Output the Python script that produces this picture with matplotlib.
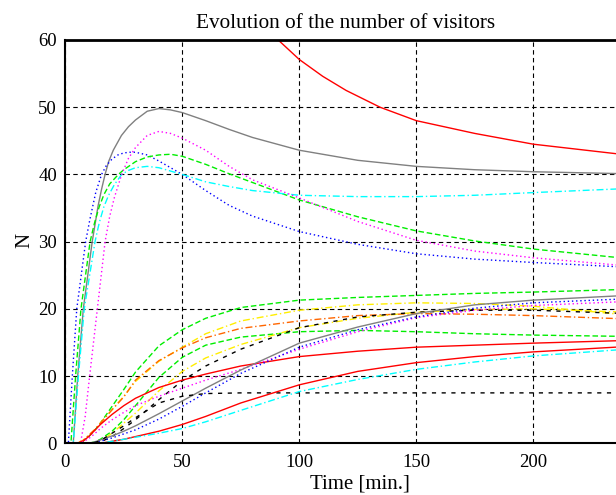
import matplotlib
matplotlib.use("Agg")
import matplotlib.pyplot as plt

# ---------------- data ----------------
# upper group (curves with a peak)
red_top_t = [85, 91, 100, 110, 120, 134.5, 150, 175, 200, 240]
red_top_n = [62.5, 60.0, 57.1, 54.6, 52.5, 50.0, 48.0, 46.1, 44.5, 42.9]

gray_up_t = [0, 3.4, 5.3, 7.7, 11.5, 14, 15.5, 17, 18.5, 20.5, 24, 27, 30, 35, 40, 45, 50, 60, 70, 80, 100, 125, 150, 175, 200, 240]
gray_up_n = [0, 0, 10, 20, 30, 35.3, 37.8, 40, 41.9, 43.6, 45.8, 47.1, 48.1, 49.4, 49.8, 49.6, 49.2, 48.0, 46.7, 45.5, 43.6, 42.1, 41.2, 40.7, 40.4, 40.1]

blue_up_t = [0, 1.3, 3.0, 4.9, 8.7, 10.5, 13, 15.5, 17.5, 20, 22.5, 25, 27.5, 30, 35, 40, 50, 60, 70, 80, 100, 125, 150, 175, 200, 240]
blue_up_n = [0, 0, 10, 20, 30, 33.3, 37.3, 40, 41.3, 42.3, 42.9, 43.2, 43.3, 43.3, 42.9, 42.0, 40.0, 37.6, 35.4, 33.8, 31.5, 29.6, 28.2, 27.4, 26.9, 26.2]

green_up_t = [0, 2.4, 4.4, 6.7, 10.6, 12.5, 14.5, 16.5, 19, 22.7, 25, 30, 35, 40, 45, 50, 60, 70, 80, 100, 125, 150, 175, 200, 240]
green_up_n = [0, 0, 10, 20, 30, 32.8, 35.2, 37.0, 38.6, 40, 40.7, 41.9, 42.6, 42.9, 43.0, 42.7, 41.5, 40.1, 38.8, 36.2, 33.7, 31.6, 30.1, 28.9, 27.5]

cyan_up_t = [0, 3.4, 5.6, 8.1, 12.7, 14.5, 16.5, 18.5, 21, 24.1, 27, 30, 35, 40, 50, 60, 70, 80, 100, 125, 150, 175, 200, 240]
cyan_up_n = [0, 0, 10, 20, 30, 32.8, 35.2, 36.9, 38.5, 40, 40.6, 41.0, 41.2, 41.0, 40.0, 38.9, 38.2, 37.6, 36.9, 36.7, 36.7, 36.9, 37.3, 37.9]

mag_up_t = [0, 6.5, 8.5, 10.4, 13.7, 17, 19, 21, 24.1, 27, 30, 35, 40, 45, 50, 60, 70, 80, 100, 125, 150, 175, 200, 240]
mag_up_n = [0, 0, 4, 10, 20, 30, 33.8, 36.6, 40, 42.4, 44.0, 45.8, 46.4, 46.1, 45.4, 43.6, 41.2, 39.2, 36.5, 33.0, 30.2, 28.6, 27.6, 26.4]

# lower group (saturating curves)
low_t = [0, 5, 7.5, 10, 12.5, 15, 20, 25, 30, 40, 50, 60, 75, 100, 125, 150, 175, 200, 240]
green1_n = [0, 0, 0.3, 1.0, 1.9, 3.0, 5.5, 8.0, 10.6, 14.5, 16.9, 18.6, 20.2, 21.3, 21.7, 22.0, 22.3, 22.5, 22.9]
yellow1_n = [0, 0, 0.4, 1.2, 2.0, 3.0, 5.0, 7.0, 9.2, 12.2, 14.3, 16.3, 18.2, 19.8, 20.6, 20.9, 20.8, 20.4, 19.1]
orange_n = [0, 0, 0.4, 1.2, 2.0, 3.0, 5.0, 6.9, 9.4, 12.3, 14.2, 15.7, 17.1, 18.2, 19.0, 19.3, 19.2, 19.0, 18.5]
green2_n = [0, 0, 0, 0, 0.2, 0.6, 1.8, 3.5, 5.6, 9.8, 12.8, 14.6, 15.8, 16.6, 16.8, 16.6, 16.3, 16.1, 15.9]
yellow2_n = [0, 0, 0, 0, 0.1, 0.3, 1.5, 3.0, 4.5, 7.8, 10.7, 12.7, 14.7, 17.2, 18.6, 19.5, 19.9, 20.0, 19.5]
black1_n = [0, 0, 0, 0, 0.1, 0.2, 1.0, 2.2, 3.5, 6.5, 9.3, 11.5, 14.0, 17.2, 18.8, 19.5, 19.8, 19.8, 19.3]
red1_n = [0, 0, 0.3, 1.0, 1.9, 2.8, 4.3, 5.6, 6.7, 8.3, 9.4, 10.3, 11.5, 12.9, 13.7, 14.3, 14.6, 14.9, 15.3]
mag_low_n = [0, 0, 0.2, 0.7, 1.4, 2.2, 3.5, 4.6, 5.6, 7.0, 8.2, 9.4, 11.0, 14.0, 16.6, 18.7, 19.8, 20.5, 21.1]
gray_low_n = [0, 0, 0, 0, 0.2, 0.5, 1.1, 1.8, 2.6, 4.4, 6.3, 8.2, 10.9, 14.9, 17.3, 19.3, 20.6, 21.3, 22.0]
blue_low_n = [0, 0, 0, 0, 0.1, 0.3, 0.8, 1.4, 2.0, 3.6, 5.5, 7.5, 10.4, 14.3, 16.9, 18.8, 20.1, 20.9, 21.5]
black2_n = [0, 0, 0, 0, 0.1, 0.4, 1.5, 2.6, 3.8, 6.0, 7.0, 7.4, 7.5, 7.5, 7.5, 7.5, 7.5, 7.5, 7.5]
red2_n = [0, 0, 0, 0, 0, 0, 0.3, 0.6, 1.0, 1.8, 2.8, 4.0, 6.0, 8.7, 10.7, 12.0, 12.9, 13.6, 14.4]
cyan_low_n = [0, 0, 0, 0, 0, 0, 0.3, 0.6, 0.9, 1.5, 2.2, 3.2, 4.9, 7.7, 9.5, 11.0, 12.1, 13.0, 14.0]

x_ticks = [0, 50, 100, 150, 200]
y_ticks = [0, 10, 20, 30, 40, 50, 60]

# ---------------- styling ----------------
plt.rcParams['font.family'] = ['Liberation Serif', 'DejaVu Serif']

W, H = 616, 495
fig = plt.figure(figsize=(W / 100, H / 100), dpi=100)
x0, y0, y1 = 65.3, 443.3, 40.0
xmax = 240
pxw = xmax * 2.34
ax = fig.add_axes([x0 / W, (H - y0) / H, pxw / W, (y0 - y1) / H])

RED = '#ff0000'
GRAY = '#808080'
BLUE = '#0000ff'
GREEN = '#00ee00'
CYAN = '#00ffff'
MAG = '#ff00ff'
YEL = '#ffee00'
ORG = '#ff6600'
BLK = '#000000'

lw = 1.0
dot = (0, (1, 2))
dash = (0, (4, 2))
bdash = (0, (3, 4))
dashdot = (0, (5, 2, 1, 2))

ax.plot(red_top_t, red_top_n, color=RED, lw=lw, ls='-')
ax.plot(gray_up_t, gray_up_n, color=GRAY, lw=lw, ls='-')
ax.plot(blue_up_t, blue_up_n, color=BLUE, lw=lw, ls=dot)
ax.plot(green_up_t, green_up_n, color=GREEN, lw=lw, ls=dash)
ax.plot(cyan_up_t, cyan_up_n, color=CYAN, lw=lw, ls=dashdot)
ax.plot(mag_up_t, mag_up_n, color=MAG, lw=lw, ls=dot)

ax.plot(low_t, green1_n, color=GREEN, lw=lw, ls=dash)
ax.plot(low_t, yellow1_n, color=YEL, lw=lw, ls=dashdot)
ax.plot(low_t, orange_n, color=ORG, lw=lw, ls=dashdot)
ax.plot(low_t, green2_n, color=GREEN, lw=lw, ls=dash)
ax.plot(low_t, yellow2_n, color=YEL, lw=lw, ls=dashdot)
ax.plot(low_t, black1_n, color=BLK, lw=lw, ls=bdash)
ax.plot(low_t, red1_n, color=RED, lw=lw, ls='-')
ax.plot(low_t, mag_low_n, color=MAG, lw=lw, ls=dot)
ax.plot(low_t, gray_low_n, color=GRAY, lw=lw, ls='-')
ax.plot(low_t, blue_low_n, color=BLUE, lw=lw, ls=dot)
ax.plot(low_t, black2_n, color=BLK, lw=lw, ls=bdash)
ax.plot(low_t, red2_n, color=RED, lw=lw, ls='-')
ax.plot(low_t, cyan_low_n, color=CYAN, lw=lw, ls=dashdot)

ax.set_xlim(0, xmax)
ax.set_ylim(0, 60)
ax.set_xticks(x_ticks)
ax.set_yticks(y_ticks)
ax.grid(True, color='black', lw=0.8, ls=(0, (4, 3)))
ax.set_axisbelow(True)
ax.tick_params(length=0, labelsize=13.5, pad=6)
ax.tick_params(axis='x', pad=8)
for s in ax.spines.values():
    s.set_linewidth(1.5)
ax.spines['top'].set_linewidth(2)

fig.text(346 / W, 1 - 23 / H, 'Evolution of the number of visitors', ha='center', va='center', fontsize=15.3)
fig.text(360 / W, 1 - 484 / H, 'Time [min.]', ha='center', va='center', fontsize=15)
fig.text(25 / W, 1 - 240 / H, 'N', ha='center', va='center', fontsize=15, rotation=90)

fig.savefig('out.png', dpi=100)
